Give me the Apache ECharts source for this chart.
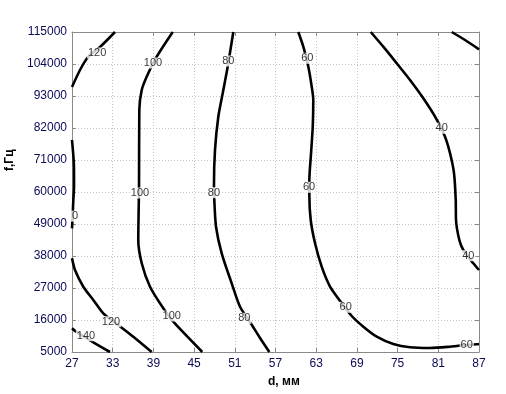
<!DOCTYPE html>
<html>
<head>
<meta charset="utf-8">
<script src="https://cdn.jsdelivr.net/npm/echarts@6/dist/echarts.min.js"></script>
<style>
html,body{margin:0;padding:0;background:#fff;}
#chart{width:506px;height:394px;}
</style>
</head>
<body>
<div id="chart"></div>
<script>
// Axis ticks
const dTicks = [27, 33, 39, 45, 51, 57, 63, 69, 75, 81, 87];
const fTicks = [5000, 16000, 27000, 38000, 49000, 60000, 71000, 82000, 93000, 104000, 115000];

// Contour lines (d in mm, f in Hz)
const c140_d = [27, 27.59, 30.14, 32.6];
const c140_f = [13147, 11978, 8334, 5000];

const c120low_d = [27, 27.44, 28.67, 30.14, 31.61, 33.83, 36.04, 38.75];
const c120low_f = [37209, 33188, 27447, 22875, 18303, 14281, 10259, 5000];

const c120edge_d = [27, 27.29, 27.3, 27.19, 27.1, 27];
const c120edge_f = [77875, 68697, 62000, 57000, 52000, 47500];

const c120top_d = [27, 28.18, 29.36, 31.13, 33.34];
const c120top_f = [96094, 101938, 106406, 109844, 115000];

const c100_d = [41.85, 39.49, 38.01, 37.28, 36.92, 36.88, 36.77, 37.28, 38.5, 40.46, 41.93, 46.21];
const c100_f = [115000, 106509, 99634, 95063, 88188, 61822, 43500, 35491, 27447, 20022, 15416, 5000];

const c80_d = [50.78, 49.95, 49.31, 48.57, 48.08, 47.93, 47.98, 48.23, 49.07, 50.54, 51.77, 53.24, 54.72, 56.09];
const c80_f = [115000, 103072, 95063, 85884, 74438, 62406, 57250, 48072, 38928, 28616, 20572, 15313, 9813, 5000];

const c60_d = [60.36, 61.1, 61.84, 62.34, 62.57, 62.49, 62.24, 61.99, 61.99, 62.19, 62.83, 63.81, 65.04, 66.41, 68.24, 69.95, 71.92, 74.37, 76.83, 79.78, 82.73, 83.95, 86.66, 87];
const c60_f = [115000, 109947, 103072, 96197, 91625, 82447, 73303, 64125, 58969, 50375, 42366, 34322, 27447, 22875, 17375, 13697, 10259, 7750, 6616, 6375, 6822, 7166, 7647, 7750];

const c40_d = [71.04, 72.89, 74.87, 76.83, 78.79, 80.52, 81.99, 82.73, 83.32, 83.57, 83.61, 84.1, 84.69, 86.16, 87];
const c40_f = [115000, 109947, 104241, 98500, 92209, 85884, 79009, 73303, 66428, 57250, 50375, 43500, 40063, 35491, 33188];

const c20_d = [82.98, 84.94, 87];
const c20_f = [115000, 112250, 109053];

// Contour labels
const labelText = ['140', '120', '120', '0', '100', '100', '100', '80', '80', '80', '60', '60', '60', '60', '40', '40'];
const labelD = [29.06, 32.75, 30.7, 27.45, 38.94, 37.02, 41.7, 50.04, 47.93, 52.4, 61.69, 61.94, 67.35, 85.19, 81.5, 85.43];
const labelF = [10603, 15416, 107781, 51700, 104344, 59656, 17375, 105031, 59759, 16584, 105959, 61616, 20366, 7406, 81897, 38103];

const D0 = 27, F0 = 5000;
const pairs = (ds, fs) => ds.map((d, i) => [d - D0, fs[i] - F0]);

const contours = [
  [c140_d, c140_f], [c120low_d, c120low_f], [c120edge_d, c120edge_f], [c120top_d, c120top_f],
  [c100_d, c100_f], [c80_d, c80_f], [c60_d, c60_f], [c40_d, c40_f], [c20_d, c20_f]
];

const FONT = '"Liberation Sans", Arial, sans-serif';
const tickColor = '#0a0a55';

const series = contours.map(c => ({
  type: 'line',
  data: pairs(c[0], c[1]),
  showSymbol: false,
  smooth: 0.25,
  clip: true,
  lineStyle: { color: '#000', width: 2.6 },
  z: 3,
  silent: true
}));

series.push({
  type: 'scatter',
  symbolSize: 0,
  z: 5,
  silent: true,
  data: labelText.map((t, i) => ({ name: t, value: [labelD[i] - D0, labelF[i] - F0] })),
  label: {
    show: true,
    position: 'inside',
    formatter: p => p.name,
    color: '#000',
    fontFamily: FONT,
    fontSize: 11,
    backgroundColor: '#fff',
    padding: [0, 1, 0, 1]
  }
});

const chart = echarts.init(document.getElementById('chart'));
chart.setOption({
  animation: false,
  backgroundColor: '#fff',
  grid: { left: 72, right: 27, top: 32, bottom: 42, show: false },
  xAxis: [{
    type: 'value', min: 0, max: dTicks[dTicks.length - 1] - D0, interval: dTicks[1] - dTicks[0],
    axisLine: { show: true, onZero: false, lineStyle: { color: '#8a8a8a', width: 1 } },
    axisTick: { show: true, inside: true, length: 4, lineStyle: { color: '#8a8a8a' } },
    axisLabel: { formatter: v => String(v + D0), color: tickColor, fontFamily: FONT, fontSize: 12, margin: 6 },
    splitLine: { show: true, lineStyle: { color: '#c4c4c4', type: [1, 2], width: 1 } }
  }, {
    type: 'value', position: 'top', min: 0, max: dTicks[dTicks.length - 1] - D0, interval: dTicks[1] - dTicks[0],
    axisLine: { show: true, onZero: false, lineStyle: { color: '#8a8a8a', width: 1 } },
    axisTick: { show: true, inside: true, length: 4, lineStyle: { color: '#8a8a8a' } },
    axisLabel: { show: false }, splitLine: { show: false }
  }],
  yAxis: [{
    type: 'value', min: 0, max: fTicks[fTicks.length - 1] - F0, interval: fTicks[1] - fTicks[0],
    axisLine: { show: true, onZero: false, lineStyle: { color: '#8a8a8a', width: 1 } },
    axisTick: { show: true, inside: true, length: 4, lineStyle: { color: '#8a8a8a' } },
    axisLabel: { formatter: v => String(v + F0), color: tickColor, fontFamily: FONT, fontSize: 12, margin: 5 },
    splitLine: { show: true, lineStyle: { color: '#c4c4c4', type: [1, 2], width: 1 } }
  }, {
    type: 'value', position: 'right', min: 0, max: fTicks[fTicks.length - 1] - F0, interval: fTicks[1] - fTicks[0],
    axisLine: { show: true, onZero: false, lineStyle: { color: '#8a8a8a', width: 1 } },
    axisTick: { show: true, inside: true, length: 4, lineStyle: { color: '#8a8a8a' } },
    axisLabel: { show: false }, splitLine: { show: false }
  }],
  graphic: [
    { type: 'text', left: 268, top: 376, style: { text: 'd, мм', font: 'bold 12px ' + FONT, fill: '#000' } },
    { type: 'text', x: 4, y: 171, rotation: Math.PI / 2, style: { text: 'f,Гц', font: 'bold 12px ' + FONT, fill: '#000' } }
  ],
  series: series
});
</script>
</body>
</html>
